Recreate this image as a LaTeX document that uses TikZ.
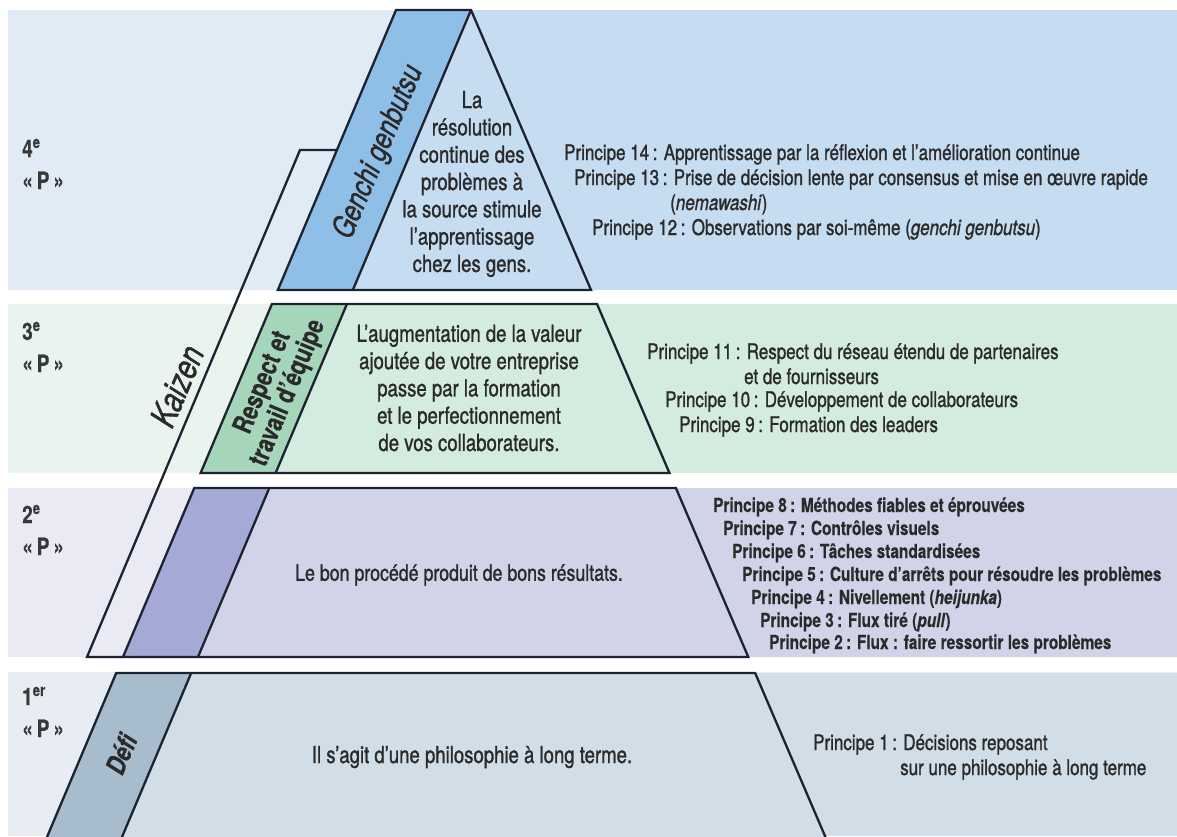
\documentclass[tikz,border=0pt]{standalone}
\usepackage{fontspec}
\setmainfont{TeX Gyre Heros}[FakeStretch=0.79, UprightFeatures={FakeBold=1.1}, ItalicFeatures={FakeBold=1.1}, BoldFeatures={FakeBold=0.3}, BoldItalicFeatures={FakeBold=0.3}]
\definecolor{bgLa}{HTML}{E1EBF6}
\definecolor{bgDa}{HTML}{C6DCF0}
\definecolor{parA}{HTML}{8FBEE6}
\definecolor{bgLb}{HTML}{E8F4ED}
\definecolor{bgDb}{HTML}{D4ECDF}
\definecolor{parB}{HTML}{A5D6BA}
\definecolor{bgLc}{HTML}{EAEAF4}
\definecolor{bgDc}{HTML}{D1D3E8}
\definecolor{parC}{HTML}{A5A9D5}
\definecolor{bgLd}{HTML}{E7EDF2}
\definecolor{bgDd}{HTML}{D1DEE7}
\definecolor{parD}{HTML}{A7BCCD}
\definecolor{edge}{HTML}{1B2230}
\definecolor{txt}{HTML}{2A2A2A}
\definecolor{labc}{HTML}{383838}
\newcommand\drawlevel[4]{% top, bottom, dark, par
  \fill[#3] ({Mx(#1)},#1) -- ({Rx(#1)},#1) -- ({Rx(#2)},#2) -- ({Mx(#2)},#2) -- cycle;
  \fill[#4] ({Lx(#1)},#1) -- ({Mx(#1)},#1) -- ({Mx(#2)},#2) -- ({Lx(#2)},#2) -- cycle;
  \draw[outline] ({Lx(#1)},#1) -- ({Rx(#1)},#1) -- ({Rx(#2)},#2) -- ({Lx(#2)},#2) -- cycle;
  \draw[outline] ({Mx(#1)},#1) -- ({Mx(#2)},#2);
}
\begin{document}
\begin{tikzpicture}[x=1pt,y=-1pt,
  declare function={Lx(\v)=396-0.422*(\v-10); Mx(\v)=471-0.422*(\v-10); Rx(\v)=471+0.4286*(\v-10);},
  outline/.style={draw=edge,line width=2.3pt,line join=miter},
  body/.style={font=\fontsize{23.5}{27.3}\selectfont, text=txt, align=center, inner sep=0pt},
  pr/.style={font=\fontsize{21.5}{24}\selectfont, text=txt, anchor=base west, inner sep=0pt},
  prb/.style={pr, font=\fontsize{19.5}{24}\selectfont\bfseries},
  lev/.style={font=\fontsize{24}{32}\selectfont\bfseries, text=labc, anchor=base west, inner sep=0pt},
  side/.style={inner sep=0pt, rotate=67}
]
\useasboundingbox (0,0) rectangle (1177,836);
\clip (0,0) rectangle (1177,836);
\fill[white] (0,0) rectangle (1177,836);
% bands
\fill[bgLa] (8,10) rectangle (1177,290);
\fill[bgDa] (471,10) rectangle (1177,290);
\fill[bgLb] (8,304) rectangle (1177,473);
\fill[bgDb] ({Lx(304)},304) rectangle (1177,473);
\fill[bgLc] (8,488) rectangle (1177,657);
\fill[bgDc] ({Lx(488)},488) rectangle (1177,657);
\fill[bgLd] (8,672) rectangle (1177,836);
\fill[bgDd] ({Lx(673)},673) rectangle (1177,836);
% Kaizen outline
\draw[outline] ({Lx(150)},150) -- (300,150) -- (87,657) -- ({Lx(657)},657);
% level 4
\coordinate (apex) at (471,10);
\fill[bgDa] (apex) -- ({Rx(290)},290) -- ({Mx(290)},290) -- cycle;
\fill[parA] ({Lx(10)},10) -- (apex) -- ({Mx(290)},290) -- ({Lx(290)},290) -- cycle;
\draw[outline] ({Lx(10)},10) -- (apex) -- ({Rx(290)},290) -- ({Lx(290)},290) -- cycle;
\draw[outline] (apex) -- ({Mx(290)},290);
% levels 3..1
\drawlevel{304}{473}{bgDb}{parB}
\drawlevel{488}{657}{bgDc}{parC}
\drawlevel{673}{850}{bgDd}{parD}
% level labels
\node[lev] (l4a) at (22,157) {4\textsuperscript{e}};
\node[lev] (l4b) at (22,189) {«\,P\,»};
\node[lev] (l3a) at (22,340) {3\textsuperscript{e}};
\node[lev] (l3b) at (22,372) {«\,P\,»};
\node[lev] (l2a) at (22,523) {2\textsuperscript{e}};
\node[lev] (l2b) at (22,555) {«\,P\,»};
\node[lev] (l1a) at (22,705) {1\textsuperscript{er}};
\node[lev] (l1b) at (22,737) {«\,P\,»};
% side texts
\node[side, font=\fontsize{31}{33}\selectfont\itshape, text=txt] (gg) at (379,152) {Genchi genbutsu};
\node[side, font=\fontsize{35}{37}\selectfont\itshape, text=txt] (kz) at (177,386) {Kaizen};
\node[side, rotate=0.5, align=center, font=\fontsize{27}{26}\selectfont\bfseries, text=txt] (re) at (276,388) {Respect et\\travail d’équipe};
\node[side, font=\fontsize{27}{27}\selectfont\bfseries\itshape, text=txt] (df) at (121,754) {Défi};
% body texts
\node[body] (t4) at (472,184) {La\\résolution\\continue des\\problèmes à\\la source stimule\\l’apprentissage\\chez les gens.};
\node[body] (t3) at (469,388) {L’augmentation de la valeur\\ajoutée de votre entreprise\\passe par la formation\\et le perfectionnement\\de vos collaborateurs.};
\node[body, font=\fontsize{22.5}{26}\selectfont] (t2) at (459,575) {Le bon procédé produit de bons résultats.};
\node[body] (t1) at (472,757) {Il s’agit d’une philosophie à long terme.};
% principles
\node[pr] (p14) at (564,160) {Principe 14\,: Apprentissage par la réflexion et l’amélioration continue};
\node[pr] (p13) at (574,185) {Principe 13\,: Prise de décision lente par consensus et mise en œuvre rapide};
\node[pr] (p13b) at (670,210) {(\textit{nemawashi})};
\node[pr] (p12) at (592,235) {Principe 12\,: Observations par soi-même (\textit{genchi genbutsu})};
\node[pr] (p11) at (647,359) {Principe 11\,: Respect du réseau étendu de partenaires};
\node[pr] (p11b) at (744,384) {et de fournisseurs};
\node[pr] (p10) at (665,407) {Principe 10\,: Développement de collaborateurs};
\node[pr] (p9) at (679,432) {Principe 9\,: Formation des leaders};
\node[prb] (p8) at (713,512) {Principe 8\,: Méthodes fiables et éprouvées};
\node[prb] (p7) at (723,535) {Principe 7\,: Contrôles visuels};
\node[prb] (p6) at (732,558) {Principe 6\,: Tâches standardisées};
\node[prb] (p5) at (742,581) {Principe 5\,: Culture d’arrêts pour résoudre les problèmes};
\node[prb] (p4) at (751,604) {Principe 4\,: Nivellement (\textit{heijunka})};
\node[prb] (p3) at (760,627) {Principe 3\,: Flux tiré (\textit{pull})};
\node[prb] (p2) at (769,649) {Principe 2\,: Flux : faire ressortir les problèmes};
\node[pr] (p1) at (813,750) {Principe 1\,: Décisions reposant};
\node[pr] (p1b) at (900,775) {sur une philosophie à long terme};
\end{tikzpicture}
\end{document}
